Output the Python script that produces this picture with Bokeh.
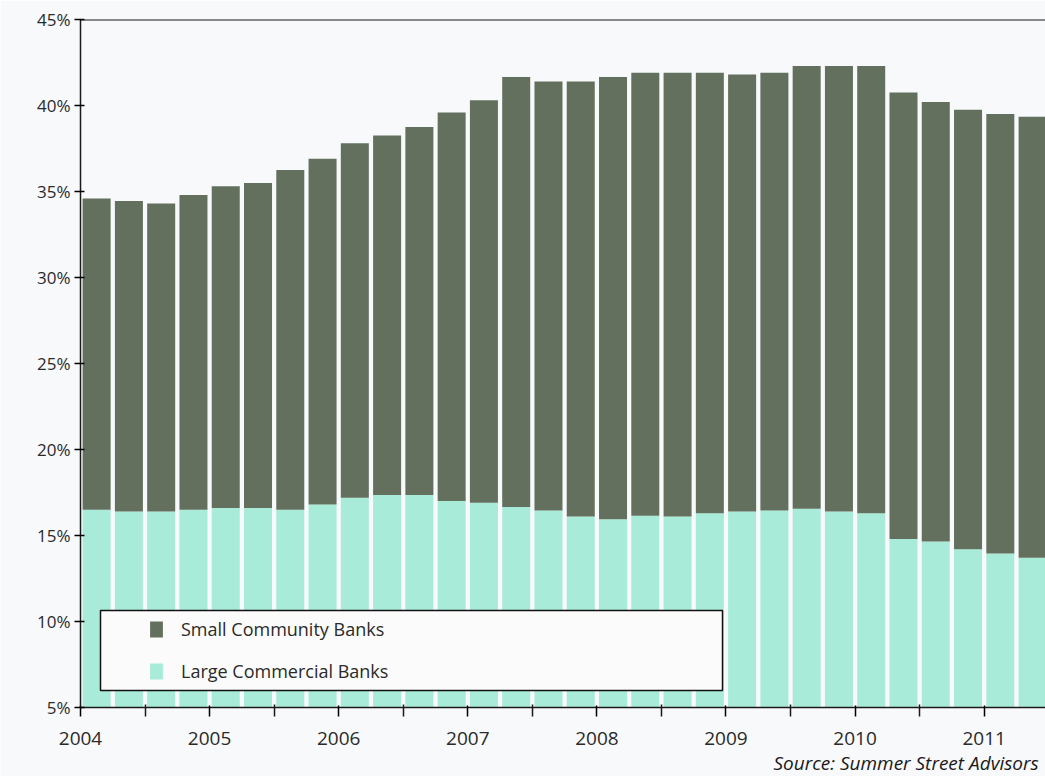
from bokeh.plotting import figure
from bokeh.models import (Range1d, FixedTicker, PrintfTickFormatter, Span, Legend,
                          LegendItem, BoxAnnotation, ColumnDataSource, Title)
from bokeh.embed import file_html
from bokeh.resources import INLINE

# ---- data (percent, by quarter) ----
quarters = ["2004Q1", "2004Q2", "2004Q3", "2004Q4",
            "2005Q1", "2005Q2", "2005Q3", "2005Q4",
            "2006Q1", "2006Q2", "2006Q3", "2006Q4",
            "2007Q1", "2007Q2", "2007Q3", "2007Q4",
            "2008Q1", "2008Q2", "2008Q3", "2008Q4",
            "2009Q1", "2009Q2", "2009Q3", "2009Q4",
            "2010Q1", "2010Q2", "2010Q3", "2010Q4",
            "2011Q1", "2011Q2"]
large_commercial = [16.5, 16.4, 16.4, 16.5, 16.6, 16.6, 16.5, 16.8,
                    17.2, 17.35, 17.35, 17.0, 16.9, 16.65, 16.45, 16.1,
                    15.95, 16.15, 16.1, 16.3, 16.4, 16.45, 16.55, 16.4,
                    16.3, 14.8, 14.65, 14.2, 13.95, 13.7]
small_community = [18.1, 18.05, 17.9, 18.3, 18.7, 18.9, 19.75, 20.1,
                   20.6, 20.9, 21.4, 22.6, 23.4, 25.0, 24.95, 25.3,
                   25.7, 25.75, 25.8, 25.6, 25.4, 25.45, 25.75, 25.9,
                   26.0, 25.95, 25.55, 25.55, 25.55, 25.65]
year_ticks = [2004, 2005, 2006, 2007, 2008, 2009, 2010, 2011]
series_names = ["Small Community Banks", "Large Commercial Banks"]
source_text = "Source: Summer Street Advisors"

dark = "#62705d"
light = "#a7ebd8"
bg = "#f8f9fb"

x = [int(q[:4]) + (int(q[-1]) - 0.5) / 4.0 for q in quarters]
src = ColumnDataSource(dict(x=x, large=large_commercial, small=small_community))

p = figure(width=1045, height=776, output_backend="svg", toolbar_location=None,
           x_range=Range1d(2004, 2011.475), y_range=Range1d(5, 45),
           min_border_left=80, min_border_right=0, min_border_top=19,
           min_border_bottom=69)
p.background_fill_color = bg
p.border_fill_color = bg
p.outline_line_color = None
p.grid.visible = False

rs = p.vbar_stack(["large", "small"], x="x", width=0.217, source=src,
                  color=[light, dark], line_color=None)

# axes
font = "Open Sans"
p.yaxis.ticker = FixedTicker(ticks=[5, 10, 15, 20, 25, 30, 35, 40, 45])
p.yaxis.formatter = PrintfTickFormatter(format="%d%%")
p.yaxis.major_tick_out = 6
p.yaxis.major_tick_in = 4
p.yaxis.minor_tick_line_color = None
p.yaxis.major_label_standoff = 4
p.yaxis.axis_line_width = 1.5
p.yaxis.axis_line_color = "#1a1a1a"
p.yaxis.major_tick_line_width = 1.5
p.yaxis.major_label_text_font_size = "17px"

p.xaxis.ticker = FixedTicker(ticks=year_ticks,
                             minor_ticks=[y + 0.5 for y in year_ticks])
p.xaxis.major_tick_out = 9
p.xaxis.major_tick_in = 2
p.xaxis.minor_tick_out = 9
p.xaxis.minor_tick_in = 3
p.xaxis.major_label_standoff = 15
p.xaxis.axis_line_width = 1.5
p.xaxis.axis_line_color = "#1a1a1a"
p.xaxis.major_tick_line_width = 1.5
p.xaxis.minor_tick_line_width = 1.5
p.xaxis.minor_tick_line_color = "#1a1a1a"
p.xaxis.major_label_text_font_size = "19px"

for ax in (p.xaxis, p.yaxis):
    ax.major_label_text_font = font
    ax.major_label_text_color = "#2a2a2a"

# top border line
p.add_layout(Span(location=45, dimension="width", line_color="#1a1a1a", line_width=2))

# legend box
box = BoxAnnotation(left=100, right=722, top=610, bottom=690,
                    left_units="canvas", right_units="canvas",
                    top_units="canvas", bottom_units="canvas",
                    fill_color="#fbfbfb", fill_alpha=1.0,
                    line_color="#111111", line_alpha=1.0, line_width=1.5)
p.add_layout(box)

legend = Legend(items=[LegendItem(label=series_names[0], renderers=[rs[1]]),
                       LegendItem(label=series_names[1], renderers=[rs[0]])],
                location=(68, 24), padding=0, margin=0, spacing=18,
                glyph_width=16, glyph_height=20, label_height=20,
                label_standoff=17, border_line_color=None,
                background_fill_alpha=0.0,
                label_text_font=font, label_text_font_size="18px",
                label_text_color="#2a2a2a")
p.add_layout(legend)

# source note below the axis
src_title = Title(text=source_text, align="left", offset=693, standoff=0,
                  text_font=font, text_font_style="italic", text_font_size="19px",
                  text_color="#1a1a1a")
p.add_layout(src_title, "below")

open("out.html", "w").write(file_html(p, INLINE))
